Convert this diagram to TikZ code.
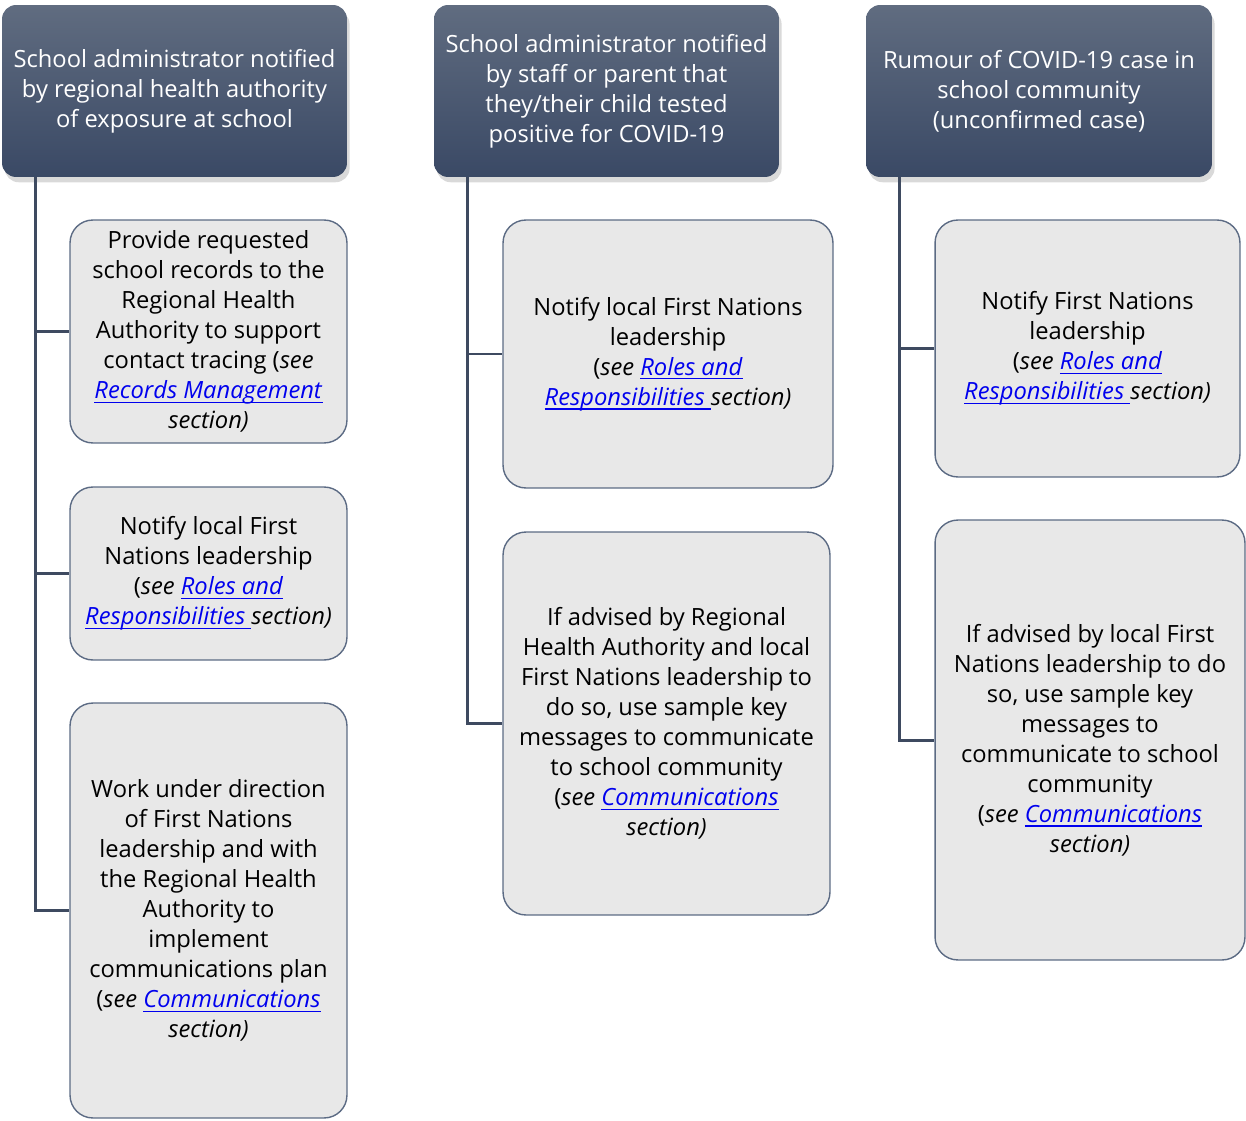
\documentclass[tikz,border=0pt]{standalone}
\usepackage{fontspec}
\setmainfont{Open Sans}
\usetikzlibrary{shadows}
\newcommand{\lnk}[1]{\textcolor{linkblue}{\setbox0\hbox{\textit{#1}}\rlap{\rule[-2.4pt]{\wd0}{0.6pt}}\box0}}
\newcommand{\fs}{\fontsize{13.5}{17.1}\selectfont}

\begin{document}
\begin{tikzpicture}[x=0.02cm,y=-0.02cm,
	head/.style={rounded corners=8pt, top color=headtop, bottom color=headbot, text=white, align=center, font=\fs, inner sep=0pt, minimum height=3.44cm, drop shadow={shadow xshift=1.5pt, shadow yshift=-3pt, opacity=0.3}},
	task/.style={rounded corners=13pt, fill=taskfill, draw=taskline, line width=0.8pt, align=center, font=\fs, inner sep=0pt},
	spine/.style={draw=spinecol, line width=1.7pt}]
	\definecolor{headtop}{RGB}{96,108,128}
	\definecolor{headbot}{RGB}{58,73,101}
	\definecolor{spinecol}{RGB}{62,74,96}
	\definecolor{taskline}{RGB}{92,107,132}
	\definecolor{taskfill}{RGB}{232,232,232}
	\definecolor{linkblue}{RGB}{0,0,238}
	\useasboundingbox (0,0) rectangle (1246,1121);
	% headers
	\node[head, minimum width=6.9cm] (h1) at (174.5,91) {School administrator notified\\by regional health authority\\of exposure at school};
	\node[head, minimum width=6.9cm] (h2) at (606.5,91) {School administrator notified\\by staff or parent that\\they/their child tested\\positive for COVID-19};
	\node[head, minimum width=6.92cm] (h3) at (1039,91) {Rumour of COVID-19 case in\\school community\\(unconfirmed case)};
	% first column
	\node[task, minimum width=5.54cm, minimum height=4.46cm] (b1) at (208.5,331.5) {Provide requested\\school records to the\\Regional Health\\Authority to support\\contact tracing (\textit{see}\\\lnk{Records Management}\\\textit{section)}};
	\node[task, minimum width=5.54cm, minimum height=3.46cm] (b2) at (208.5,573.5) {Notify local First\\Nations leadership\\(\textit{see} \lnk{Roles and}\\\lnk{Responsibilities\ }\textit{section)}};
	\node[task, minimum width=5.54cm, minimum height=8.3cm] (b3) at (208.5,910.5) {Work under direction\\of First Nations\\leadership and with\\the Regional Health\\Authority to\\implement\\communications plan\\(\textit{see} \lnk{Communications}\\\textit{section)}};
	% second column
	\node[task, minimum width=6.6cm, minimum height=5.36cm] (c1) at (668,354) {Notify local First Nations\\leadership\\(\textit{see} \lnk{Roles and}\\\lnk{Responsibilities\ }\textit{section)}};
	\node[task, minimum width=6.54cm, minimum height=7.66cm] (c2) at (666.5,723.5) {If advised by Regional\\Health Authority and local\\First Nations leadership to\\do so, use sample key\\messages to communicate\\to school community\\(\textit{see} \lnk{Communications}\\\textit{section)}};
	% third column
	\node[task, minimum width=6.1cm, minimum height=5.14cm] (d1) at (1087.5,348.5) {Notify First Nations\\leadership\\(\textit{see} \lnk{Roles and}\\\lnk{Responsibilities\ }\textit{section)}};
	\node[task, minimum width=6.2cm, minimum height=8.8cm] (d2) at (1090,740) {If advised by local First\\Nations leadership to do\\so, use sample key\\messages to\\communicate to school\\community\\(\textit{see} \lnk{Communications}\\\textit{section)}};
	% connectors
	\foreach \h/\t in {h1/b1, h1/b2, h1/b3, h2/c1, h2/c2, h3/d1, h3/d2}
		\draw[spine] ([xshift=0.68cm]\h.south west) |- (\t.west);
\end{tikzpicture}
\end{document}
